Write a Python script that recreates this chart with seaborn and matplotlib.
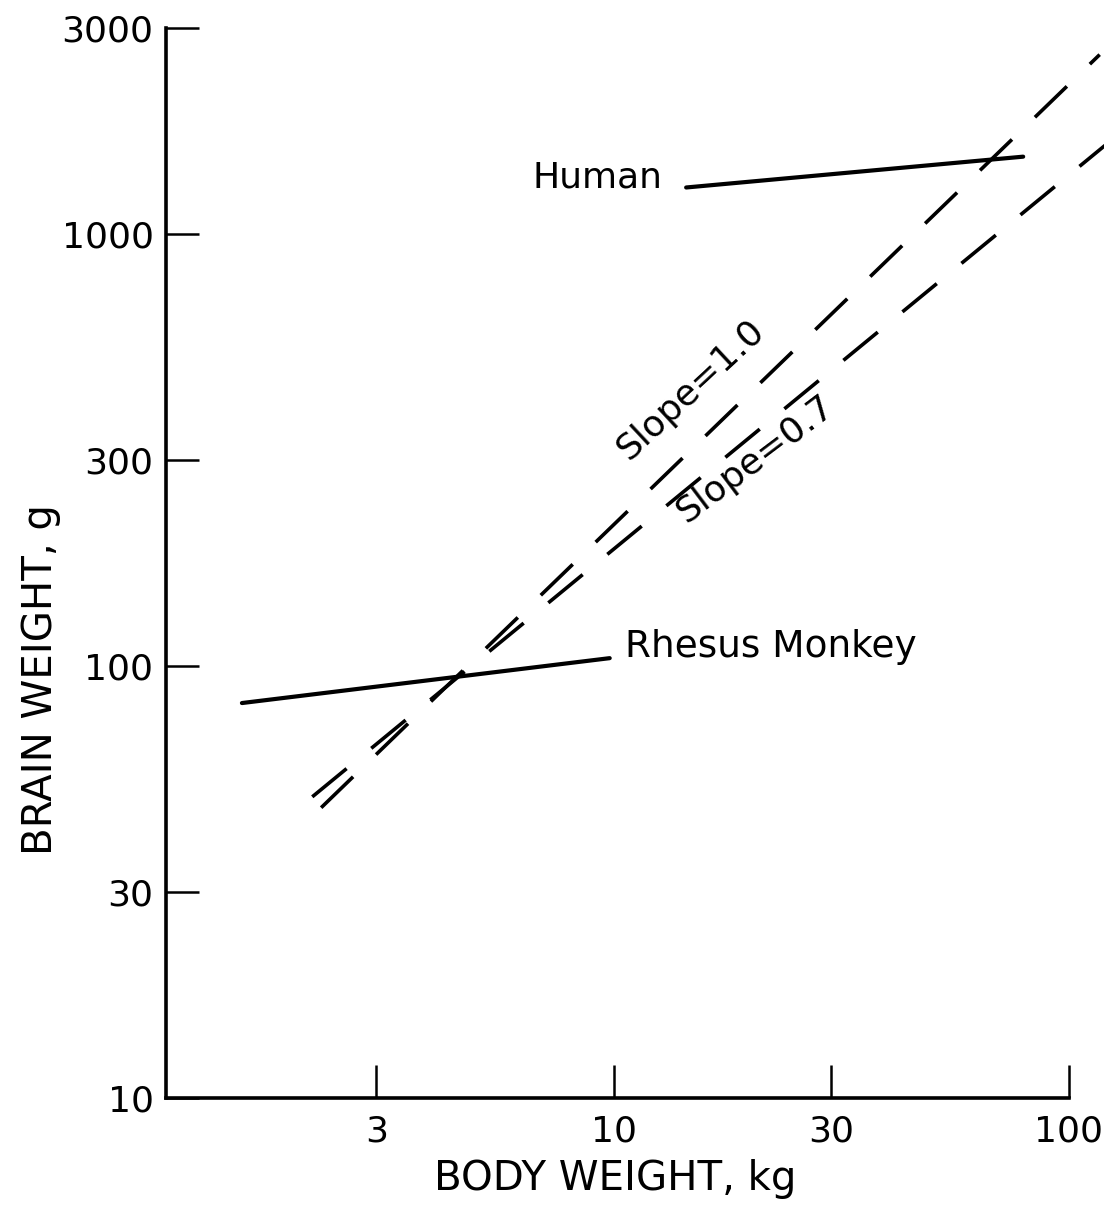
import matplotlib
matplotlib.use("Agg")
import matplotlib.pyplot as plt
from matplotlib.ticker import FixedLocator, FixedFormatter, NullLocator
import seaborn as sns
import pandas as pd

# ---- data ----
human_x = [14.4, 79.3]
human_y = [1282, 1511]
rhesus_x = [1.52, 9.78]
rhesus_y = [82.1, 104.3]
slope10_x = [2.27, 116.8]
slope10_y = [47.0, 2603]
slope07_x = [2.17, 122.9]
slope07_y = [49.8, 1638]

x_ticks = [3, 10, 30, 100]
x_tick_labels = ["3", "10", "30", "100"]
y_ticks = [10, 30, 100, 300, 1000, 3000]
y_tick_labels = ["10", "30", "100", "300", "1000", "3000"]

labels = {"human": "Human", "rhesus": "Rhesus Monkey",
          "s10": "Slope=1.0", "s07": "Slope=0.7"}

# ---- style ----
sns.set_style("white")
plt.rcParams["font.family"] = ["DejaVu Sans"]
plt.rcParams["text.color"] = "black"
plt.rcParams["axes.labelcolor"] = "black"
plt.rcParams["lines.scale_dashes"] = False

W, H = 1104, 1217
fig = plt.figure(figsize=(W / 100, H / 100), dpi=100)
ax = fig.add_axes([166 / W, 1 - 1098 / H, 903 / W, 1070 / H])

ax.set_xscale("log")
ax.set_yscale("log")
ax.set_xlim(1.035, 100)
ax.set_ylim(10, 3000)

df_h = pd.DataFrame({"x": human_x, "y": human_y})
df_r = pd.DataFrame({"x": rhesus_x, "y": rhesus_y})
df_s10 = pd.DataFrame({"x": slope10_x, "y": slope10_y})
df_s07 = pd.DataFrame({"x": slope07_x, "y": slope07_y})

sns.lineplot(data=df_h, x="x", y="y", ax=ax, color="black", lw=3.0, clip_on=False)
sns.lineplot(data=df_r, x="x", y="y", ax=ax, color="black", lw=3.0, clip_on=False)
sns.lineplot(data=df_s10, x="x", y="y", ax=ax, color="black", lw=2.6,
             linestyle=(0, (32, 23)), clip_on=False)
sns.lineplot(data=df_s07, x="x", y="y", ax=ax, color="black", lw=2.6,
             linestyle=(0, (32, 23)), clip_on=False)

# annotations
ax.text(6.61, 1282, labels["human"], fontsize=26, ha="left", va="baseline", color="black")
ax.text(10.56, 104.9, labels["rhesus"], fontsize=27, ha="left", va="baseline", color="black")
ax.text(14.77, 437, labels["s10"], fontsize=26, ha="center", va="center",
        rotation=43, rotation_mode="anchor", color="black")
ax.text(20.46, 301, labels["s07"], fontsize=26, ha="center", va="center",
        rotation=37, rotation_mode="anchor", color="black")

# spines
sns.despine(ax=ax, top=True, right=True)
for s in ("left", "bottom"):
    ax.spines[s].set_linewidth(2.6)
    ax.spines[s].set_color("black")

# ticks
ax.xaxis.set_major_locator(FixedLocator(x_ticks))
ax.xaxis.set_major_formatter(FixedFormatter(x_tick_labels))
ax.yaxis.set_major_locator(FixedLocator(y_ticks))
ax.yaxis.set_major_formatter(FixedFormatter(y_tick_labels))
ax.xaxis.set_minor_locator(NullLocator())
ax.yaxis.set_minor_locator(NullLocator())
ax.tick_params(axis="both", which="major", direction="in", length=24,
               width=1.8, color="black", labelcolor="black",
               bottom=True, left=True, top=False, right=False,
               labelsize=26)
ax.tick_params(axis="x", pad=12)
ax.tick_params(axis="y", pad=9)

# axis labels
ax.set_xlabel("BODY WEIGHT, kg", fontsize=29, va="baseline", color="black")
ax.xaxis.set_label_coords((615 - 166) / 903, (1098 - 1190) / 1070)
ax.set_ylabel("BRAIN WEIGHT, g", fontsize=29, va="baseline", color="black")
ax.yaxis.set_label_coords((52 - 166) / 903, (1098 - 680) / 1070)

ax.grid(False)
fig.savefig("out.png", dpi=100, facecolor="white")
